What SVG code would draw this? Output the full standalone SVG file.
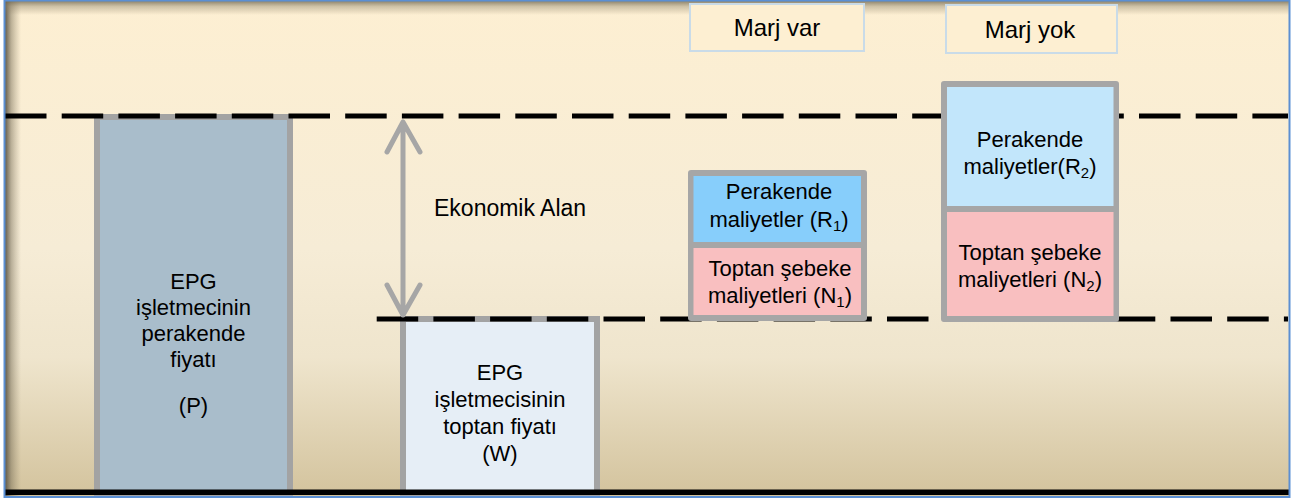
<svg xmlns="http://www.w3.org/2000/svg" width="1304" height="499" viewBox="0 0 1304 499">
  <defs>
    <linearGradient id="bg" x1="0" y1="0" x2="0" y2="1">
      <stop offset="0" stop-color="#fdefd2"/>
      <stop offset="0.5" stop-color="#f6ecd6"/>
      <stop offset="0.72" stop-color="#efe5cd"/>
      <stop offset="1" stop-color="#d3c39d"/>
    </linearGradient>
    <linearGradient id="shL" x1="0" y1="0" x2="1" y2="0">
      <stop offset="0" stop-color="#4f4a3c" stop-opacity="0.9"/>
      <stop offset="0.4" stop-color="#6f6650" stop-opacity="0.45"/>
      <stop offset="1" stop-color="#8a7f66" stop-opacity="0"/>
    </linearGradient>
    <linearGradient id="shT" x1="0" y1="0" x2="0" y2="1">
      <stop offset="0" stop-color="#6f6650" stop-opacity="0.8"/>
      <stop offset="0.4" stop-color="#8a7f66" stop-opacity="0.4"/>
      <stop offset="1" stop-color="#8a7f66" stop-opacity="0"/>
    </linearGradient>
    <style>
      .t { font-family: "Liberation Sans", Arial, sans-serif; font-size: 22px; fill: #000; text-anchor: middle; }
      .sub { font-size: 15px; }
      .frame { fill: #a6a6a6; }
      .dash { stroke: #000; stroke-width: 5; stroke-dasharray: 41.5 15.2; fill: none; }
      .arrow { stroke: #a6a6a6; stroke-width: 5; fill: none; stroke-linecap: round; stroke-linejoin: round; }
      .marj { fill: #fdefd2; stroke: #c9dbe8; stroke-width: 2; }
    </style>
  </defs>

  <rect x="0" y="0" width="1304" height="499" fill="#ffffff"/>
  <rect x="5" y="1" width="1284" height="495" fill="url(#bg)"/>
  <rect x="5" y="1" width="16" height="495" fill="url(#shL)"/>
  <rect x="5" y="1" width="1284" height="14" fill="url(#shT)"/>

  <g id="node-marj-var">
    <rect class="marj" x="690" y="4" width="174" height="47"/>
    <text class="t" x="777" y="36" font-size="24" style="font-size:24px">Marj var</text>
  </g>
  <g id="node-marj-yok">
    <rect class="marj" x="946" y="5" width="171" height="48"/>
    <text class="t" x="1030" y="38" style="font-size:24px">Marj yok</text>
  </g>

  <g id="node-P">
    <rect x="97" y="117" width="193" height="376" fill="#a9bdcb" stroke="#a3a3a3" stroke-width="6"/>
    <text class="t" x="193.5" y="289">EPG</text>
    <text class="t" x="193.5" y="315">işletmecinin</text>
    <text class="t" x="193.5" y="341">perakende</text>
    <text class="t" x="193.5" y="367">fiyatı</text>
    <text class="t" x="193.5" y="413">(P)</text>
  </g>

  <g id="node-W">
    <rect x="403" y="319" width="194" height="174" fill="#e6eef6" stroke="#a3a3a3" stroke-width="6"/>
    <text class="t" x="500" y="380">EPG</text>
    <text class="t" x="500" y="407">işletmecisinin</text>
    <text class="t" x="500" y="434">toptan fiyatı</text>
    <text class="t" x="500" y="461">(W)</text>
  </g>

  <g id="connectors">
    <path class="dash" d="M5 116 H1288"/>
    <path class="dash" d="M376.7 319 H1288"/>
    <path class="arrow" d="M403 122 V315 M387 152 L403 122 L420 152 M387 285 L403 315 L420 285"/>
  </g>

  <g id="node-R1-N1">
    <rect class="frame" x="688" y="170" width="179" height="151" rx="3"/>
    <rect x="693.5" y="176" width="167.5" height="66" fill="#87cefb"/>
    <rect x="693.5" y="248" width="167.5" height="67" fill="#f9bfc0"/>
    <text class="t" x="779" y="199">Perakende</text>
    <text class="t" x="779" y="227">maliyetler (R<tspan class="sub" dy="4">1</tspan><tspan dy="-4">)</tspan></text>
    <text class="t" x="780" y="276">Toptan şebeke</text>
    <text class="t" x="780" y="303">maliyetleri (N<tspan class="sub" dy="4">1</tspan><tspan dy="-4">)</tspan></text>
  </g>

  <g id="node-R2-N2">
    <rect class="frame" x="941" y="81" width="178" height="241" rx="3"/>
    <rect x="947" y="87" width="166.5" height="119" fill="#c2e6fb"/>
    <rect x="947" y="212" width="166.5" height="104" fill="#f9bfc0"/>
    <text class="t" x="1030" y="147">Perakende</text>
    <text class="t" x="1030" y="174">maliyetler(R<tspan class="sub" dy="4">2</tspan><tspan dy="-4">)</tspan></text>
    <text class="t" x="1030" y="260">Toptan şebeke</text>
    <text class="t" x="1030" y="287">maliyetleri (N<tspan class="sub" dy="4">2</tspan><tspan dy="-4">)</tspan></text>
  </g>

  <g id="label-ekonomik">
    <text class="t" x="434" y="216" style="font-size:23px;text-anchor:start">Ekonomik Alan</text>
  </g>

  <rect x="5" y="489.5" width="1284" height="5.5" fill="#000"/>
  <rect x="4.5" y="0.5" width="1285" height="496.5" fill="none" stroke="#5b8fd3" stroke-width="2"/>
</svg>
